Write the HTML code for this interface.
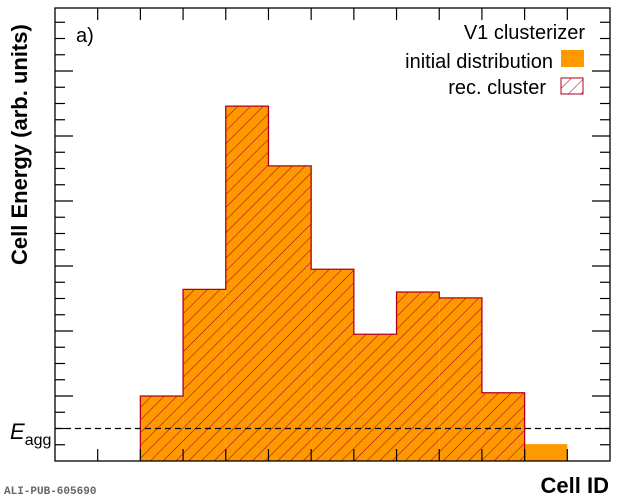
<!DOCTYPE html>
<html><head><meta charset="utf-8"><style>
body{margin:0;background:#fff;}
svg{display:block;font-family:"Liberation Sans",sans-serif;}
</style></head><body>
<svg width="620" height="498" viewBox="0 0 620 498">
<defs>
<pattern id="hatch" patternUnits="userSpaceOnUse" width="9" height="9" patternTransform="rotate(45)">
<line x1="0" y1="0" x2="0" y2="9" stroke="#b0001e" stroke-width="1.1"/>
</pattern>
</defs>
<g id="bars"></g>
<line id="eagg" stroke="#000" stroke-width="1.3" stroke-dasharray="6,4"/>
<g id="ticks"></g>
<rect x="55" y="8" width="555" height="453" fill="none" stroke="#000" stroke-width="1.3"/>
<text x="76" y="42" font-size="20">a)</text>
<text x="585" y="39" font-size="20" text-anchor="end">V1 clusterizer</text>
<text x="553" y="68" font-size="20" text-anchor="end">initial distribution</text>
<rect x="561" y="50" width="23" height="17" fill="#ff9900"/>
<text x="546" y="94" font-size="20" text-anchor="end">rec. cluster</text>
<rect x="561" y="78" width="22" height="16" fill="url(#hatch)" stroke="#b0001e" stroke-width="1"/>
<text transform="translate(27,265) rotate(-90)" font-size="22" font-weight="bold">Cell Energy (arb. units)</text>
<text x="609" y="493" font-size="22" font-weight="bold" text-anchor="end">Cell ID</text>
<text x="10" y="439" font-size="22" font-style="italic">E<tspan font-size="16" font-style="normal" dy="6">agg</tspan></text>
<text x="4" y="494" font-size="11" fill="#666" font-family="Liberation Mono,monospace" font-weight="bold">ALI-PUB-605690</text>
</svg>
<script>
const cellIds=[0,1,2,3,4,5,6,7,8,9,10,11,12];
const initialEnergy=[0,0,1.0,2.64,5.46,4.54,2.95,1.95,2.60,2.51,1.05,0.26,0];
const clusterEnergy=[0,0,1.0,2.64,5.46,4.54,2.95,1.95,2.60,2.51,1.05,0,0];
const eAgg=[0.5];
const X0=55,BW=555/13,Y0=461,PX=65;
const xs=i=>X0+i*BW, ys=v=>Y0-v*PX;
const NS="http://www.w3.org/2000/svg";
const g=document.getElementById('bars');
function r(x,y,w,h,fill){const e=document.createElementNS(NS,'rect');e.setAttribute('x',x);e.setAttribute('y',y);e.setAttribute('width',w);e.setAttribute('height',h);e.setAttribute('fill',fill);return e;}
cellIds.forEach((c,i)=>{
 if(initialEnergy[i]>0){const e=r(xs(c),ys(initialEnergy[i]),BW,Y0-ys(initialEnergy[i]),'#ff9900');
 
 
 g.appendChild(e);}
 if(clusterEnergy[i]>0){const h=r(xs(c),ys(clusterEnergy[i]),BW,Y0-ys(clusterEnergy[i]),'url(#hatch)');
 
 
 g.appendChild(h);}
});
// outline of cluster
let d='';cellIds.forEach((c,i)=>{if(clusterEnergy[i]>0){const y=ys(clusterEnergy[i]);const prev=i>0?clusterEnergy[i-1]:0;
 if(!d){d='M'+xs(c)+','+Y0+' L'+xs(c)+','+y;}else d+=' L'+xs(c)+','+y;
 d+=' L'+xs(c+1)+','+y;}});
d+=' L'+xs(11)+','+Y0;
const p=document.createElementNS(NS,'path');p.setAttribute('d',d);p.setAttribute('fill','none');p.setAttribute('stroke','#b0001e');p.setAttribute('stroke-width','1.3');


g.appendChild(p);
const el=document.getElementById('eagg');
el.setAttribute('x1',55);el.setAttribute('x2',610);el.setAttribute('y1',ys(eAgg[0]));el.setAttribute('y2',ys(eAgg[0]));
const t=document.getElementById('ticks');
function ln(x1,y1,x2,y2){const e=document.createElementNS(NS,'line');e.setAttribute('x1',x1);e.setAttribute('y1',y1);e.setAttribute('x2',x2);e.setAttribute('y2',y2);e.setAttribute('stroke','#000');e.setAttribute('stroke-width','1.2');t.appendChild(e);}
for(let k=1;k<13;k++){const x=xs(k);ln(x,461,x,449);ln(x,8,x,20);}
for(let k=1;k<28;k++){const y=Y0-k*PX/4;if(y<9)break;const L=k%4==0?18:10;ln(55,y,55+L,y);ln(610,y,610-L,y);}
</script>
</body></html>
